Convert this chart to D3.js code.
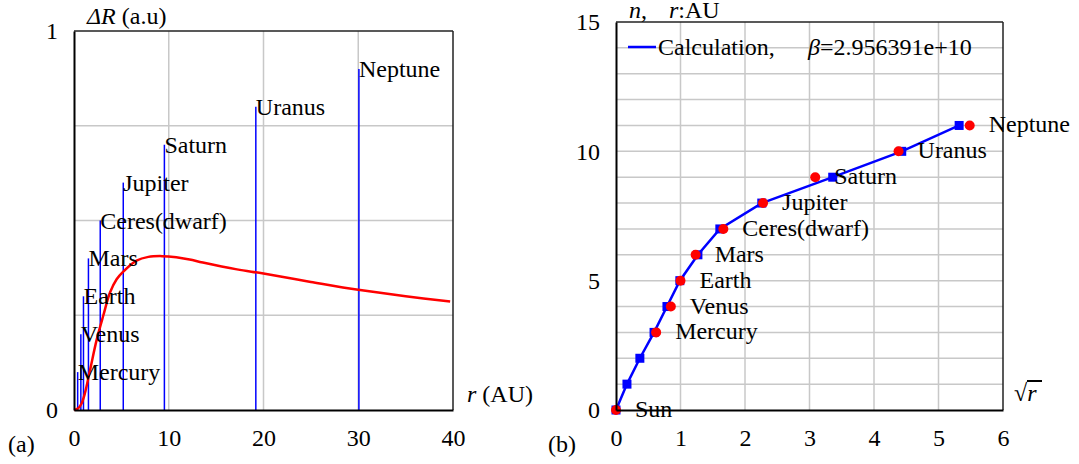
<!DOCTYPE html>
<html>
<head>
<meta charset="UTF-8" />
<script src="https://d3js.org/d3.v7.min.js"></script>
<style>
  body { margin: 0; background: #fff; }
  svg { display: block; }
  text { font-family: "Liberation Serif", "Tinos", "Times New Roman", "DejaVu Serif", serif; font-size: 24px; fill: #000; white-space: pre; }
  .grid { stroke: #c8c8c8; stroke-width: 1.5px; }
</style>
</head>
<body>
<svg width="1079" height="464"></svg>
<script>
// (a) planet bars
const planets = ["Mercury", "Venus", "Earth", "Mars", "Ceres(dwarf)", "Jupiter", "Saturn", "Uranus", "Neptune"];
const orbitAU = [0.387, 0.723, 1.0, 1.524, 2.77, 5.2, 9.54, 19.19, 30.07];
const barHeight = [0.1, 0.2, 0.3, 0.4, 0.5, 0.6, 0.7, 0.8, 0.9];

// (a) red curve
const curveR  = [0, 0.46, 0.81, 1.16, 1.69, 2.39, 3.1, 3.8, 4.5, 5.2, 6.6, 7.85, 9.3, 10.8, 12.2, 13.6, 17.2, 20, 25, 30, 35, 39.7];
const curveDR = [0, 0.005, 0.018, 0.045, 0.105, 0.185, 0.25, 0.31, 0.345, 0.365, 0.394, 0.404, 0.406, 0.403, 0.397, 0.389, 0.371, 0.36, 0.338, 0.317, 0.300, 0.286];

// (b) calculation (blue) and observed (red)
const calcSqrtR = [0, 0.17, 0.37, 0.59, 0.79, 0.99, 1.27, 1.61, 2.26, 3.36, 4.43, 5.32];
const calcN     = [0, 1, 2, 3, 4, 5, 6, 7, 8, 9, 10, 11];
const obsNames  = ["Sun"].concat(planets);
const obsAU     = [0].concat(orbitAU);
const obsN      = [0, 3, 4, 5, 6, 7, 8, 9, 10, 11];

const svg = d3.select("svg");
const FONT = '"Liberation Serif", "Tinos", "Times New Roman", "DejaVu Serif", serif';

// ---------- panel (a) ----------
const xa = d3.scaleLinear().domain([0, 40]).range([74, 453]);
const ya = d3.scaleLinear().domain([0, 1]).range([410, 31]);
const ga = svg.append("g");

ga.selectAll(".gx").data([10, 20, 30]).enter().append("line")
  .attr("class", "grid")
  .attr("x1", d => xa(d)).attr("x2", d => xa(d))
  .attr("y1", ya(0)).attr("y2", ya(1));
ga.selectAll(".gy").data([0.25, 0.5, 0.75]).enter().append("line")
  .attr("class", "grid")
  .attr("x1", xa(0)).attr("x2", xa(40))
  .attr("y1", d => ya(d)).attr("y2", d => ya(d));

const bars = planets.map((p, i) => ({ name: p, r: orbitAU[i], h: barHeight[i] }));

ga.selectAll(".bar").data(bars).enter().append("line")
  .attr("x1", d => xa(d.r)).attr("x2", d => xa(d.r))
  .attr("y1", ya(0)).attr("y2", d => ya(d.h))
  .attr("stroke", "#0000ff").attr("stroke-width", 1.5);

ga.append("path")
  .datum(curveR.map((r, i) => [r, curveDR[i]]))
  .attr("fill", "none").attr("stroke", "#ff0000").attr("stroke-width", 2.5)
  .attr("d", d3.line().x(d => xa(d[0])).y(d => ya(d[1])).curve(d3.curveCatmullRom));

ga.selectAll(".blab").data(bars).enter().append("text")
  .attr("x", d => xa(d.r))
  .attr("y", d => ya(d.h) + 8)
  .text(d => d.name);

// frame
ga.append("line").attr("x1", xa(0)).attr("x2", xa(40)).attr("y1", ya(1)).attr("y2", ya(1)).attr("stroke", "#222").attr("stroke-width", 1.5);
ga.append("line").attr("x1", xa(40)).attr("x2", xa(40)).attr("y1", ya(0)).attr("y2", ya(1)).attr("stroke", "#222").attr("stroke-width", 1.5);

const axA = ga.append("g").attr("transform", `translate(0,${ya(0)})`)
  .call(d3.axisBottom(xa).tickValues([0, 10, 20, 30, 40]).tickSize(0).tickPadding(19).tickFormat(d3.format("d")));
const ayA = ga.append("g").attr("transform", `translate(${xa(0)},0)`)
  .call(d3.axisLeft(ya).tickValues([0, 1]).tickSize(0).tickPadding(16).tickFormat(d3.format("d")));
[axA, ayA].forEach(a => {
  a.select(".domain").attr("stroke", "#000").attr("stroke-width", 2);
  a.selectAll("text").style("font-size", "24px").style("font-family", FONT);
});

const ta = ga.append("text").attr("x", 87).attr("y", 24);
ta.append("tspan").style("font-style", "italic").text("ΔR");
ta.append("tspan").text(" (a.u)");

const ra = ga.append("text").attr("x", 467).attr("y", 402);
ra.append("tspan").style("font-style", "italic").text("r");
ra.append("tspan").text(" (AU)");

ga.append("text").attr("x", 8).attr("y", 452).text("(a)");

// ---------- panel (b) ----------
const xb = d3.scaleLinear().domain([0, 6]).range([616, 1003]);
const yb = d3.scaleLinear().domain([0, 15]).range([410, 22]);
const gb = svg.append("g");

gb.selectAll(".gx").data(d3.range(1, 6)).enter().append("line")
  .attr("class", "grid")
  .attr("x1", d => xb(d)).attr("x2", d => xb(d))
  .attr("y1", yb(0)).attr("y2", yb(15));
gb.selectAll(".gy").data(d3.range(1, 15)).enter().append("line")
  .attr("class", "grid")
  .attr("x1", xb(0)).attr("x2", xb(6))
  .attr("y1", d => yb(d)).attr("y2", d => yb(d));

gb.append("line").attr("x1", xb(0)).attr("x2", xb(6)).attr("y1", yb(15)).attr("y2", yb(15)).attr("stroke", "#222").attr("stroke-width", 1.5);
gb.append("line").attr("x1", xb(6)).attr("x2", xb(6)).attr("y1", yb(0)).attr("y2", yb(15)).attr("stroke", "#222").attr("stroke-width", 1.5);

const calc = calcSqrtR.map((s, i) => [s, calcN[i]]);
gb.append("path").datum(calc)
  .attr("fill", "none").attr("stroke", "#0000ff").attr("stroke-width", 2.5)
  .attr("d", d3.line().x(d => xb(d[0])).y(d => yb(d[1])));
gb.selectAll(".sq").data(calc).enter().append("rect")
  .attr("x", d => xb(d[0]) - 4.5).attr("y", d => yb(d[1]) - 4.5)
  .attr("width", 9).attr("height", 9).attr("fill", "#0000ff");

const obs = obsNames.map((nm, i) => ({ name: nm, s: Math.sqrt(obsAU[i]), n: obsN[i] }));
gb.selectAll(".ob").data(obs).enter().append("circle")
  .attr("cx", d => xb(d.s)).attr("cy", d => yb(d.n)).attr("r", 5)
  .attr("fill", "#ff0000");
gb.selectAll(".olab").data(obs).enter().append("text")
  .attr("x", d => xb(d.s) + 19).attr("y", d => yb(d.n) + 7)
  .text(d => d.name);

const axB = gb.append("g").attr("transform", `translate(0,${yb(0)})`)
  .call(d3.axisBottom(xb).tickValues(d3.range(0, 7)).tickSize(0).tickPadding(19).tickFormat(d3.format("d")));
const ayB = gb.append("g").attr("transform", `translate(${xb(0)},0)`)
  .call(d3.axisLeft(yb).tickValues([0, 5, 10, 15]).tickSize(0).tickPadding(16).tickFormat(d3.format("d")));
[axB, ayB].forEach(a => {
  a.select(".domain").attr("stroke", "#000").attr("stroke-width", 2);
  a.selectAll("text").style("font-size", "24px").style("font-family", FONT);
});

// legend
gb.append("line").attr("x1", 628).attr("x2", 656).attr("y1", 47).attr("y2", 47)
  .attr("stroke", "#0000ff").attr("stroke-width", 2.5);
gb.append("text").attr("x", 658).attr("y", 55).text("Calculation,");
const beta = gb.append("text").attr("x", 808).attr("y", 55);
beta.append("tspan").style("font-style", "italic").text("β");
beta.append("tspan").text("=2.956391e+10");

const tb = gb.append("text").attr("x", 629).attr("y", 18);
tb.append("tspan").style("font-style", "italic").text("n");
tb.append("tspan").text(",");
tb.append("tspan").attr("x", 669).style("font-style", "italic").text("r");
tb.append("tspan").text(":AU");

// sqrt(r) axis label
const sq = gb.append("text").attr("x", 1014).attr("y", 401);
sq.append("tspan").style("font-weight", "bold").text("√");
sq.append("tspan").style("font-style", "italic").text("r");
gb.append("line").attr("x1", 1027).attr("x2", 1042).attr("y1", 381).attr("y2", 381)
  .attr("stroke", "#000").attr("stroke-width", 2);

gb.append("text").attr("x", 548).attr("y", 452).text("(b)");
</script>
</body>
</html>
